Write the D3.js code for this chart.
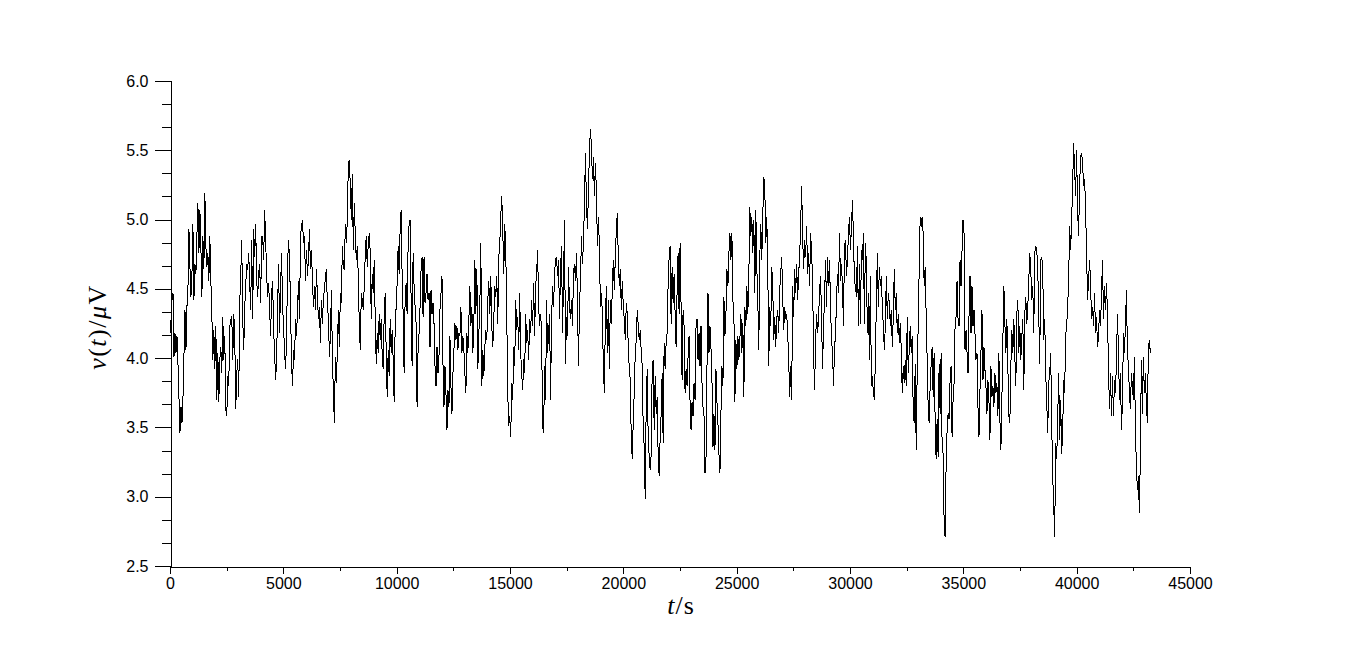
<!DOCTYPE html>
<html>
<head>
<meta charset="utf-8">
<script src="https://cdn.jsdelivr.net/npm/d3@7/dist/d3.min.js"></script>
<style>
  html, body { margin: 0; padding: 0; background: #fff; }
  svg { display: block; }
  .tick text { font-family: "Liberation Sans", Arial, sans-serif; font-size: 16px; fill: #000; }
</style>
</head>
<body>
<script>
const tFirst = 0;       // s, first sample
const tLast = 43250;    // s, last sample
const seg1 = [4.28,4.18,4.42,4.47,4.01,4.18,4.04,4.16,3.96,3.72,3.46,3.65,3.53,3.70,4.01,4.35,4.06,4.37,4.49,4.93,4.66,4.44,4.59,4.97,4.42,4.68,4.61,4.88,5.12,4.76,5.07,4.81,4.44,4.88,4.64,5.19,4.81,4.66,4.76,4.56,4.88,4.56,4.32,3.99,4.20,3.92,4.23,3.70,4.04,3.68,3.99,4.08,3.89,4.30,3.99,4.16,3.63,3.58,3.87,3.80,4.23,4.28,4.30,3.99,4.32,4.16,3.63,3.89,3.99,3.72,4.40,4.61,4.85,4.28,4.06,4.37,4.52,4.68,4.64,4.76,4.54,4.35,4.85,4.28,4.93,4.73,4.97,4.56,4.44,4.61,4.68,4.40,4.88];
const seg2 = [4.88,4.71,5.07,4.85,4.61,4.44,4.54,4.35,4.16,4.47,4.56,4.20,4.04,3.84,3.99,4.37,4.68,4.18,4.52,4.76,4.37,4.23,4.04,3.92,4.13,4.68,4.85,4.71,4.37,3.96,3.80,4.06,3.99,4.28,4.16,4.35,4.56,4.28,4.88,4.95,5.00,4.83,4.88,4.56,4.78,4.59,4.73,4.93,4.64,4.78,4.56,4.37,4.52,4.35,4.64,4.44,4.28,4.37,4.11,4.42,4.25,4.44,4.49,4.59,4.64,4.37,4.30,4.01,4.16,4.49,4.01,3.75,3.53,4.01,3.82,4.06,4.35,4.08,4.47,4.40,4.81,4.66,4.64,4.97,4.83,5.00,5.41,5.43,5.24,5.00,5.33,4.78,5.12,4.88,4.71,4.81,4.59,4.23,4.06,4.47,4.42];
const seg3 = [4.35,4.52,4.76,4.88,4.66,4.83,4.90,4.76,4.28,4.61,4.47,4.71,4.28,3.96,4.18,4.04,4.32,4.13,4.28,4.01,3.92,4.32,4.47,4.04,3.72,4.06,3.87,4.28,4.04,4.20,3.99,3.68,4.23,4.37,4.54,4.81,4.61,4.93,5.07,4.59,4.32,3.89,4.42,4.54,4.32,4.81,4.97,5.00,4.42,3.94,4.76,4.52,4.37,4.25,3.65,4.06,4.18,4.37,4.64,4.73,4.30,4.73,4.40,4.47,4.61,4.42,4.47,4.08,4.49,4.32,4.40,4.25,3.94,3.80,4.08,3.89,4.01,4.35,4.47,4.59,3.96,3.65,3.94,3.75,3.48,3.77,3.65,4.16,3.80,3.60,3.89,4.06,4.25,4.13,4.23,4.06,4.18,4.16,4.37,4.04,4.16];
const seg4 = [4.06,3.89,3.75,4.18,4.04,4.28,4.52,4.23,4.37,4.04,4.25,4.71,4.32,4.64,3.92,4.18,4.37,4.83,3.80,4.06,3.87,4.08,4.20,4.13,4.42,4.56,4.32,4.59,4.23,4.08,4.28,4.52,4.44,4.59,4.25,4.73,4.83,5.02,5.17,4.93,4.61,4.97,4.78,4.32,3.75,3.51,3.58,3.43,3.82,3.70,4.08,3.94,4.42,4.20,4.30,4.06,4.47,4.04,3.89,3.77,3.99,3.89,4.32,4.11,4.20,3.99,4.28,4.18,4.42,4.23,4.54,4.16,4.52,4.61,4.78,4.37,4.23,4.32,4.18,3.51,3.46,3.94,3.70,4.42,4.04,4.18,4.32,3.70,4.28,4.52,4.37,4.61,4.71,4.73,4.59,4.71,4.28,4.64,4.81,4.18,4.56];
const seg5 = [5.00,3.96,4.30,4.16,4.66,4.37,4.28,4.42,4.23,4.61,4.68,4.56,4.76,4.42,3.94,4.37,4.56,4.88,4.68,4.83,5.12,5.48,5.12,4.93,5.19,5.50,5.65,5.53,5.29,5.45,5.17,5.41,5.21,4.81,5.02,4.81,4.37,4.47,4.32,3.92,3.75,4.28,4.52,4.04,4.42,3.92,4.42,4.25,4.52,4.71,4.49,4.73,4.93,5.05,4.71,4.52,4.64,4.35,4.56,4.37,4.28,4.13,4.40,4.32,4.08,3.92,3.84,3.41,3.27,3.56,3.75,4.04,4.13,4.35,4.23,4.13,4.20,4.04,3.94,3.48,3.36,2.98,3.68,3.92,3.41,3.29,3.19,3.31,3.92,3.99,3.48,3.87,3.60,3.72,3.29,3.15,3.43,3.60,3.89,3.39,4.11];
const seg6 = [3.92,4.11,4.18,4.54,4.73,4.81,4.25,4.66,4.40,4.61,4.32,4.08,4.49,4.76,4.32,4.83,4.37,3.84,4.35,4.23,3.75,3.92,3.80,4.01,4.16,3.68,3.48,3.68,3.58,3.82,3.70,4.23,4.28,3.99,4.18,3.94,4.23,3.82,3.65,3.58,3.17,3.27,3.94,4.47,4.04,4.23,4.08,3.84,3.36,3.60,3.34,3.92,3.68,3.53,3.31,3.17,3.60,3.94,3.80,4.44,4.16,4.30,4.64,4.52,4.76,4.90,4.71,4.90,4.42,4.32,3.68,4.13,3.92,4.16,3.99,4.13,4.32,4.04,4.25,3.72,4.37,4.23,4.52,4.32,4.59,5.09,4.88,5.02,4.76,5.00,4.47,5.07,4.66,4.42,4.06,4.73,4.97,4.71,5.02,5.31];
const seg7 = [5.24,4.83,5.02,4.68,3.94,4.37,4.23,4.66,4.52,4.13,4.30,4.08,4.28,4.35,4.18,4.49,4.61,4.73,4.44,4.20,4.37,4.28,4.32,4.18,3.99,3.72,3.94,3.70,4.52,4.30,4.64,4.47,4.68,4.42,4.61,4.73,4.97,5.24,4.88,4.64,4.85,4.73,4.95,4.61,4.76,4.52,4.90,4.76,4.56,4.04,3.77,4.13,4.32,4.18,4.28,4.49,4.59,4.28,3.92,4.23,4.44,4.71,4.37,4.73,4.52,4.71,4.37,4.13,4.04,3.80,4.08,4.16,4.42,4.61,4.47,4.90,4.56,4.68,4.52,4.23,4.81,4.85,4.59,4.71,4.90,5.02,4.78,4.95,5.14,4.88,4.56,4.52,4.44,4.81,4.23,4.68,4.25,4.78,4.71,4.90];
const seg8 = [4.25,4.83,4.68,4.18,4.47,3.99,4.59,3.80,3.87,3.75,3.70,3.99,4.40,4.76,4.37,4.66,4.52,4.59,4.37,4.23,4.06,4.23,4.59,4.28,4.47,4.40,4.23,4.35,4.08,4.30,4.64,4.35,4.47,4.18,4.32,4.11,4.25,4.06,3.75,3.94,3.82,3.99,3.80,4.30,3.89,4.06,4.23,4.04,4.16,3.60,3.53,3.96,3.34,3.92,4.23,4.64,5.02,4.95,5.02,4.90,4.52,4.66,4.30,3.99,3.65,3.53,3.80,3.96,4.08,3.72,4.04,3.56,3.27,3.56,3.29,3.96,3.60,4.04,3.36,3.31,2.83,2.71,3.22,3.48,3.60,3.56,3.84,3.94,3.43,3.70,3.82,4.23,4.30,4.56,4.28,4.23,4.71,4.52,4.78,5.00];
const seg9 = [4.90,4.06,4.20,4.04,3.89,4.30,4.59,4.18,4.52,4.23,4.35,4.18,3.99,4.04,3.65,3.43,3.77,4.04,4.35,3.84,4.08,3.92,3.80,3.60,3.84,3.70,3.41,3.94,3.72,3.80,3.65,3.89,3.75,3.82,3.58,4.04,3.56,3.34,3.70,4.13,4.52,4.25,4.04,4.28,3.94,3.58,3.53,3.94,4.20,4.04,4.28,4.01,3.80,4.32,4.42,4.04,4.23,3.99,4.16,4.28,3.77,4.32,4.44,4.25,4.37,4.56,4.76,4.64,4.42,4.52,4.18,4.76,4.81,4.78,4.64,4.32,3.96,4.71,4.73,4.64,4.13,4.28,3.89,3.68,3.46,3.82,3.89,4.04,3.53,3.15,2.95,2.71,3.39,3.27,3.56,3.89,3.41,3.70,3.31,3.46,3.84];
const seg10 = [3.75,4.16,4.23,4.37,4.56,4.95,4.78,5.00,5.24,5.55,5.36,5.17,5.50,5.07,4.88,5.24,5.45,5.48,5.41,5.24,5.29,5.09,4.76,4.42,4.56,4.71,4.54,4.28,4.37,4.23,4.47,4.18,4.30,4.08,4.16,4.35,4.23,4.47,4.71,4.28,4.52,4.35,4.54,4.32,3.92,3.63,3.89,3.58,3.87,3.58,3.84,3.75,3.99,4.32,4.04,3.70,3.89,3.48,3.68,4.18,4.04,4.23,4.49,4.06,3.94,3.75,3.63,3.89,3.80,3.70,4.01,3.51,3.22,3.05,3.15,2.88,3.31,3.99,3.60,4.01,3.75,3.89,3.68,3.53,4.06,4.13,4.04];

// ---- axis settings ----
const xDomain = [0, 45000];
const yDomain = [2.5, 6.0];
const xMajorTicks = [0, 5000, 10000, 15000, 20000, 25000, 30000, 35000, 40000, 45000];
const xMinorTicks = [2500, 7500, 12500, 17500, 22500, 27500, 32500, 37500, 42500];
const yMajorTicks = [2.5, 3.0, 3.5, 4.0, 4.5, 5.0, 5.5, 6.0];

const values = [].concat(seg1, seg2, seg3, seg4, seg5, seg6, seg7, seg8, seg9, seg10);
const dt = (tLast - tFirst) / (values.length - 1);
const data = values.map((v, i) => ({ t: tFirst + i * dt, v }));

const W = 1362, H = 647;
const svg = d3.select("body").append("svg").attr("width", W).attr("height", H);

const x = d3.scaleLinear().domain(xDomain).range([170, 1190]);
const y = d3.scaleLinear().domain(yDomain).range([566, 81]);

// minor y ticks: thirds between majors
const yMinorTicks = [];
for (let i = 0; i < yMajorTicks.length - 1; i++) {
  const a = yMajorTicks[i], b = yMajorTicks[i + 1];
  yMinorTicks.push(a + (b - a) / 3, a + 2 * (b - a) / 3);
}

// x axis
const gx = svg.append("g").attr("transform", "translate(0,566.5)");
gx.call(d3.axisBottom(x).tickValues(xMajorTicks).tickFormat(d3.format("d")).tickSize(7).tickPadding(4));
gx.append("g").call(d3.axisBottom(x).tickValues(xMinorTicks).tickFormat("").tickSize(4))
  .select(".domain").remove();
gx.selectAll(".domain").attr("stroke", "#000").attr("shape-rendering", "crispEdges");
gx.selectAll("line").attr("stroke", "#000").attr("shape-rendering", "crispEdges");

// y axis
const gy = svg.append("g").attr("transform", "translate(170.5,0)");
gy.call(d3.axisLeft(y).tickValues(yMajorTicks).tickFormat(d3.format(".1f")).tickSize(16).tickPadding(6));
gy.append("g").call(d3.axisLeft(y).tickValues(yMinorTicks).tickFormat("").tickSize(9))
  .select(".domain").remove();
gy.selectAll(".domain").attr("stroke", "#000").attr("shape-rendering", "crispEdges");
gy.selectAll("line").attr("stroke", "#000").attr("shape-rendering", "crispEdges");

// line
const line = d3.line().x(d => x(d.t)).y(d => y(d.v));
svg.append("path").datum(data)
  .attr("d", line)
  .attr("fill", "none")
  .attr("stroke", "#000")
  .attr("stroke-width", 1)
  .attr("shape-rendering", "crispEdges");

// axis labels
const labelFont = "'Liberation Serif', 'Times New Roman', serif";
const xl = svg.append("text")
  .attr("x", 681).attr("y", 614)
  .attr("text-anchor", "middle")
  .style("font-family", labelFont)
  .style("font-size", "26px")
  .style("letter-spacing", "1px");
xl.append("tspan").style("font-style", "italic").text("t");
xl.append("tspan").text("/s");

const yl = svg.append("text")
  .attr("transform", "translate(106,327) rotate(-90)")
  .attr("text-anchor", "middle")
  .style("font-family", labelFont)
  .style("font-size", "26px")
  .style("letter-spacing", "1.5px");
yl.append("tspan").style("font-style", "italic").text("v");
yl.append("tspan").text("(");
yl.append("tspan").style("font-style", "italic").text("t");
yl.append("tspan").text(")/");
yl.append("tspan").style("font-style", "italic").text("μ");
yl.append("tspan").text("V");
</script>
</body>
</html>
